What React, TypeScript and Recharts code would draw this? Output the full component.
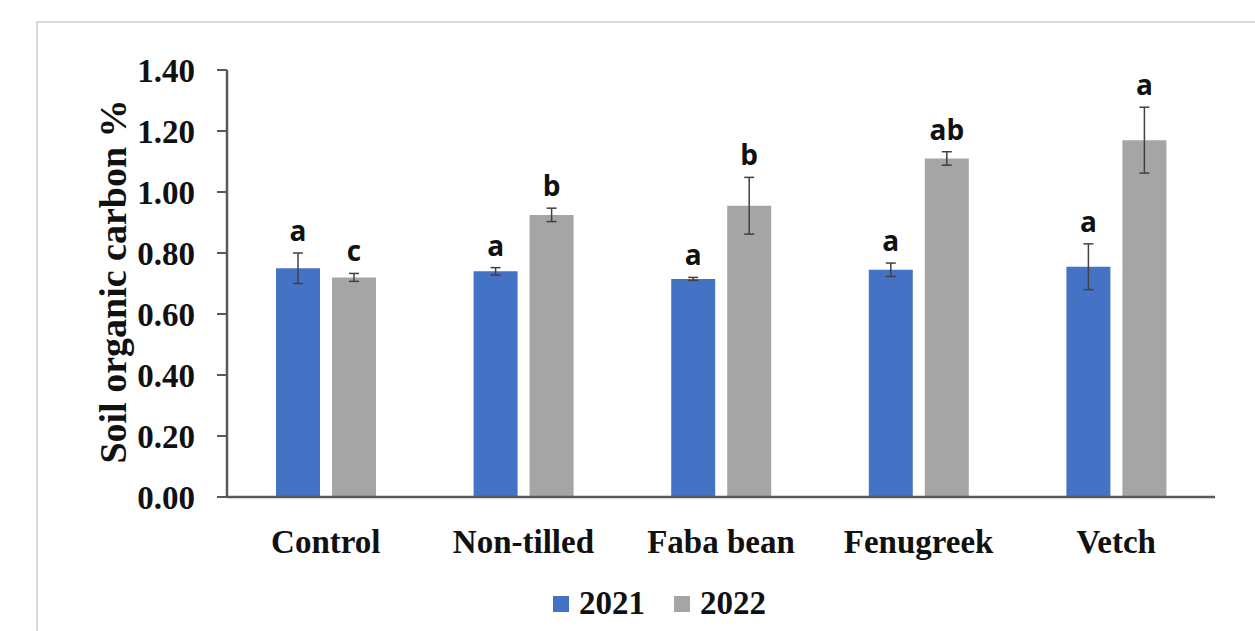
import { BarChart, Bar, XAxis, YAxis, ErrorBar, LabelList, Legend } from 'recharts';

const categories = ['Control', 'Non-tilled', 'Faba bean', 'Fenugreek', 'Vetch'];
const soc2021 = [0.75, 0.74, 0.715, 0.745, 0.755];
const soc2022 = [0.72, 0.925, 0.955, 1.11, 1.17];
const se2021 = [0.05, 0.012, 0.005, 0.022, 0.075];
const se2022 = [0.013, 0.022, 0.093, 0.022, 0.108];
const letters2021 = ['a', 'a', 'a', 'a', 'a'];
const letters2022 = ['c', 'b', 'b', 'ab', 'a'];
const yTicks = [0, 0.2, 0.4, 0.6, 0.8, 1.0, 1.2, 1.4];

const BLUE = '#4472C4';
const GREY = '#A5A5A5';
const AXIS = '#595959';
const SERIF = '"Liberation Serif", "Times New Roman", serif';

const data = categories.map((name, i) => ({
  name,
  y2021: soc2021[i],
  y2022: soc2022[i],
  e2021: se2021[i],
  e2022: se2022[i],
  l2021: letters2021[i],
  l2022: letters2022[i],
}));

// letter sits a little above the top of the error bar
const makeLetter = (errs: number[], vals: number[]) => (props: any) => {
  const { x, y, width, height, value, index } = props;
  const pxPerUnit = height / vals[index];
  const top = y - errs[index] * pxPerUnit - 12;
  return (
    <text
      x={x + width / 2}
      y={top}
      textAnchor="middle"
      style={{ fontFamily: '"Open Sans", sans-serif', fontWeight: 700, fontSize: 28, fill: '#111' }}
    >
      {value}
    </text>
  );
};

const YTitle = (props: any) => {
  const { viewBox } = props;
  const cy = viewBox.y + viewBox.height / 2 - 2;
  const cx = 126;
  return (
    <text
      x={cx}
      y={cy}
      transform={`rotate(-90 ${cx} ${cy})`}
      textAnchor="middle"
      style={{ fontFamily: SERIF, fontWeight: 700, fontSize: 38, fill: '#111' }}
    >
      Soil organic carbon %
    </text>
  );
};

const LegendBox = () => (
  <div style={{ position: 'relative', height: 46, width: 1255 }}>
    {[
      { label: '2021', color: BLUE, left: 553 },
      { label: '2022', color: GREY, left: 674 },
    ].map((it) => (
      <div key={it.label} style={{ position: 'absolute', left: it.left, top: 0, display: 'flex', alignItems: 'center' }}>
        <span style={{ display: 'inline-block', width: 16, height: 16, background: it.color, marginRight: 10 }} />
        <span style={{ fontFamily: SERIF, fontWeight: 700, fontSize: 33, color: '#111' }}>{it.label}</span>
      </div>
    ))}
  </div>
);

export default function App() {
  return (
    <div style={{ position: 'fixed', left: 0, top: 0, width: 1255, height: 631, overflow: 'hidden', background: '#fff' }}>
      <div
        style={{
          position: 'absolute',
          left: 36,
          top: 21,
          width: 1300,
          height: 700,
          border: '2px solid #d9d9d9',
        }}
      />
      <div style={{ position: 'absolute', left: 0, top: 0 }}>
        <BarChart
          width={1255}
          height={631}
          data={data}
          margin={{ top: 70, right: 40, bottom: 0, left: 0 }}
          barSize={44}
          barGap={12}
        >
          <XAxis
            dataKey="name"
            axisLine={{ stroke: AXIS, strokeWidth: 2.5 }}
            tickLine={false}
            tickSize={0}
            tickMargin={33}
            height={88}
            interval={0}
            tick={{ fontFamily: SERIF, fontWeight: 700, fontSize: 33, fill: '#111' }}
          />
          <YAxis
            domain={[0, 1.4]}
            ticks={yTicks}
            interval={0}
            width={227}
            axisLine={{ stroke: AXIS, strokeWidth: 2.5 }}
            tickLine={{ stroke: AXIS, strokeWidth: 2 }}
            tickSize={10}
            tickMargin={22}
            tickFormatter={(v: number) => v.toFixed(2)}
            tick={{ fontFamily: SERIF, fontWeight: 700, fontSize: 33, fill: '#111' }}
            label={<YTitle />}
          />
          <Legend verticalAlign="bottom" content={<LegendBox />} />
          <Bar dataKey="y2021" name="2021" fill={BLUE} isAnimationActive={false}>
            <ErrorBar dataKey="e2021" width={5} stroke="#404040" strokeWidth={1.5} direction="y" />
            <LabelList dataKey="l2021" content={makeLetter(se2021, soc2021)} />
          </Bar>
          <Bar dataKey="y2022" name="2022" fill={GREY} isAnimationActive={false}>
            <ErrorBar dataKey="e2022" width={5} stroke="#404040" strokeWidth={1.5} direction="y" />
            <LabelList dataKey="l2022" content={makeLetter(se2022, soc2022)} />
          </Bar>
        </BarChart>
      </div>
    </div>
  );
}
